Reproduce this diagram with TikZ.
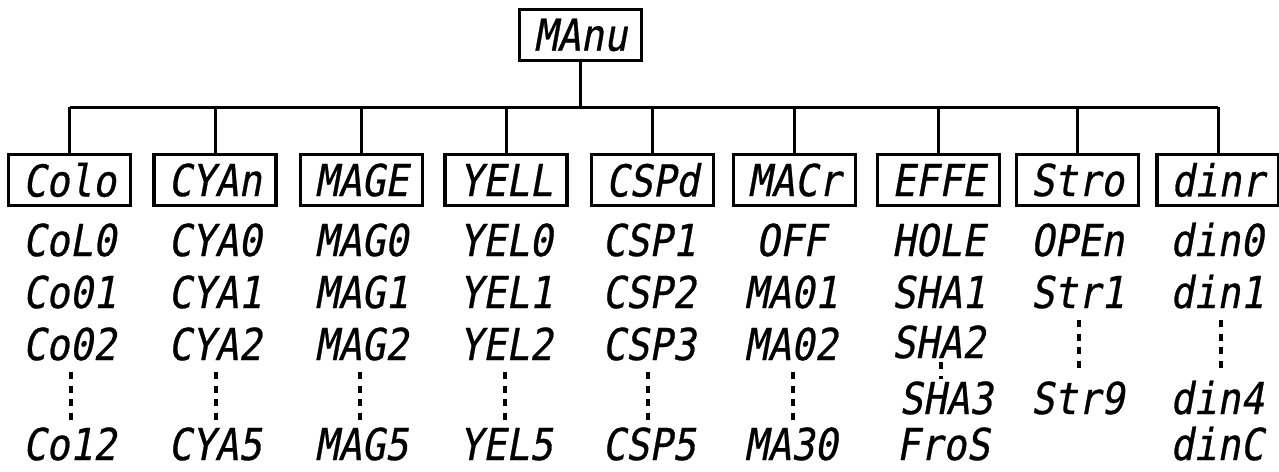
\documentclass[tikz,border=0pt]{standalone}
\usepackage{fontspec}
\newfontfamily\segfont[FakeStretch=0.88,FakeSlant=0.18,FakeBold=0.6]{DejaVu Sans Mono}
\begin{document}
\begin{tikzpicture}[x=1pt,y=-1pt,
  menubox/.style={draw, line width=3.5pt, minimum width=122pt, minimum height=51pt,
    inner sep=0pt, font=\segfont\fontsize{44}{44}\selectfont},
  item/.style={anchor=base, inner sep=0pt, font=\segfont\fontsize{44}{44}\selectfont},
  conn/.style={line width=3pt},
  ellip/.style={line width=4.5pt, dash pattern=on 7pt off 6.5pt}]
\useasboundingbox (0,0) rectangle (1279,471);
% top
\node[menubox] (top) at (580.5,35) {MAnu};
% menu boxes
\node[menubox] (b1) at (69.5,180) {Colo};
\node[menubox] (b2) at (215,180) {CYAn};
\node[menubox] (b3) at (361.5,180) {MAGE};
\node[menubox] (b4) at (506,180) {YELL};
\node[menubox] (b5) at (652.5,180) {CSPd};
\node[menubox] (b6) at (794.5,180) {MACr};
\node[menubox] (b7) at (938.5,180) {EFFE};
\node[menubox] (b8) at (1077.5,180) {Stro};
\node[menubox] (b9) at (1218,180) {dinr};
% connectors
\draw[conn] (top.south) -- ++(0,45) coordinate (j);
\draw[conn, line cap=square] (b1.north |- j) -- (b9.north |- j);
\foreach \b in {b1,b2,b3,b4,b5,b6,b7,b8,b9}
  \draw[conn] (\b.north) -- (\b.north |- j);
% column 1
\node[item] (c1a) at (69.5,256) {CoL0};
\node[item] (c1b) at (69.5,308) {Co01};
\node[item] (c1c) at (69.5,360) {Co02};
\node[item] (c1e) at (69.5,460) {Co12};
% column 2
\node[item] (c2a) at (215,256) {CYA0};
\node[item] (c2b) at (215,308) {CYA1};
\node[item] (c2c) at (215,360) {CYA2};
\node[item] (c2e) at (215,460) {CYA5};
% column 3
\node[item] (c3a) at (361.5,256) {MAG0};
\node[item] (c3b) at (361.5,308) {MAG1};
\node[item] (c3c) at (361.5,360) {MAG2};
\node[item] (c3e) at (361.5,460) {MAG5};
% column 4
\node[item] (c4a) at (506,256) {YEL0};
\node[item] (c4b) at (506,308) {YEL1};
\node[item] (c4c) at (506,360) {YEL2};
\node[item] (c4e) at (506,460) {YEL5};
% column 5
\node[item] (c5a) at (649,256) {CSP1};
\node[item] (c5b) at (649,308) {CSP2};
\node[item] (c5c) at (649,360) {CSP3};
\node[item] (c5e) at (649,460) {CSP5};
% column 6
\node[item] (c6a) at (791,256) {OFF};
\node[item] (c6b) at (791,308) {MA01};
\node[item] (c6c) at (791,360) {MA02};
\node[item] (c6e) at (791,460) {MA30};
% column 7
\node[item] (c7a) at (938.5,256) {HOLE};
\node[item] (c7b) at (938.5,308) {SHA1};
\node[item] (c7c) at (938.5,358) {SHA2};
\node[item] (c7d) at (946,414) {SHA3};
\node[item] (c7e) at (943,460) {FroS};
% column 8
\node[item] (c8a) at (1077.5,256) {OPEn};
\node[item] (c8b) at (1077.5,308) {Str1};
\node[item] (c8d) at (1077.5,414) {Str9};
% column 9
\node[item] (c9a) at (1217,256) {din0};
\node[item] (c9b) at (1217,308) {din1};
\node[item] (c9d) at (1217,414) {din4};
\node[item] (c9e) at (1217,460) {dinC};
% ellipsis dots
\foreach \x in {71,216,360,505,648,793}
  \draw[ellip] (\x,372) -- (\x,421);
\draw[ellip] (941,362) -- (941,379);
\foreach \x in {1079,1221}
  \draw[ellip] (\x,320) -- (\x,368);
\end{tikzpicture}
\end{document}
